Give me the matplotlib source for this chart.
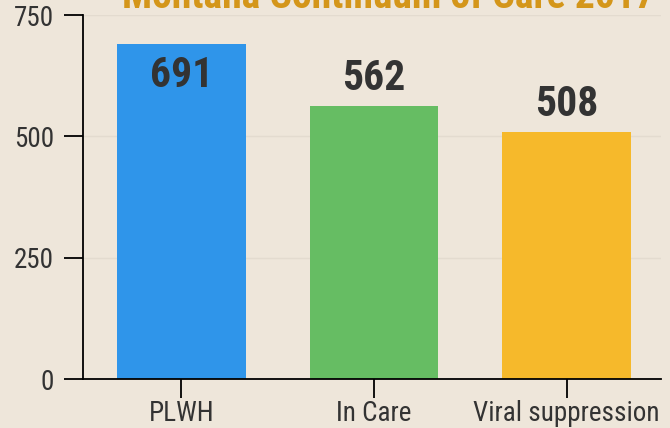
import matplotlib
matplotlib.use("Agg")
import matplotlib.pyplot as plt
from matplotlib import font_manager

categories = ["PLWH", "In Care", "Viral suppression"]
values = [691, 562, 508]
colors = ["#2f95ea", "#66bd63", "#f6b92b"]
yticks = [0, 250, 500, 750]
title = "Montana Continuum of Care 2017"

names = {f.name for f in font_manager.fontManager.ttflist}
fam = "Roboto"
condensed = False
for cand in ["Roboto Condensed", "Liberation Sans Narrow", "Open Sans Condensed"]:
    if cand in names:
        fam = cand
        condensed = True
        break

k = 1.0 if condensed else 0.9

bg = "#eee6da"
txt = "#333333"

fig = plt.figure(figsize=(6.70, 4.28), dpi=100, facecolor=bg)
ax = fig.add_axes([83 / 670, 49 / 428, (661 - 83) / 670, (379 - 15) / 428])
ax.set_facecolor(bg)

x = list(range(len(categories)))
ax.bar(x, values, width=0.667, color=colors, zorder=2)
ax.set_xlim(-0.51, 2.49)
ax.set_ylim(0, 750)
ax.set_yticks(yticks)
ax.set_yticklabels([str(t) for t in yticks], fontfamily=fam, fontsize=19.5 * k, color=txt)
ax.set_xticks(x)
ax.set_xticklabels(categories, fontfamily=fam, fontsize=19.5 * k, color=txt)
ax.grid(axis="y", color="#e3dbcf", lw=1, zorder=0)
for s in ["top", "right"]:
    ax.spines[s].set_visible(False)
for s in ["left", "bottom"]:
    ax.spines[s].set_color("black")
    ax.spines[s].set_linewidth(1.3)
ax.tick_params(axis="both", length=14, width=1.3, color="black")
ax.tick_params(axis="y", pad=7)
ax.tick_params(axis="x", pad=1)

for xi, v in zip(x, values):
    ly = v + 58 if v + 58 < 700 else v - 65
    ax.text(xi, ly, str(v), ha="center", va="center", fontfamily=fam,
            fontweight="bold", fontsize=30 * k, color=txt, zorder=3)

fig.text(388 / 670, 1 - 8 / 428, title, ha="center", va="baseline",
         fontfamily=fam, fontweight="bold", fontsize=25 if not condensed else 28.5,
         color="#d4961a")

fig.savefig("out.png", dpi=100, facecolor=bg)
